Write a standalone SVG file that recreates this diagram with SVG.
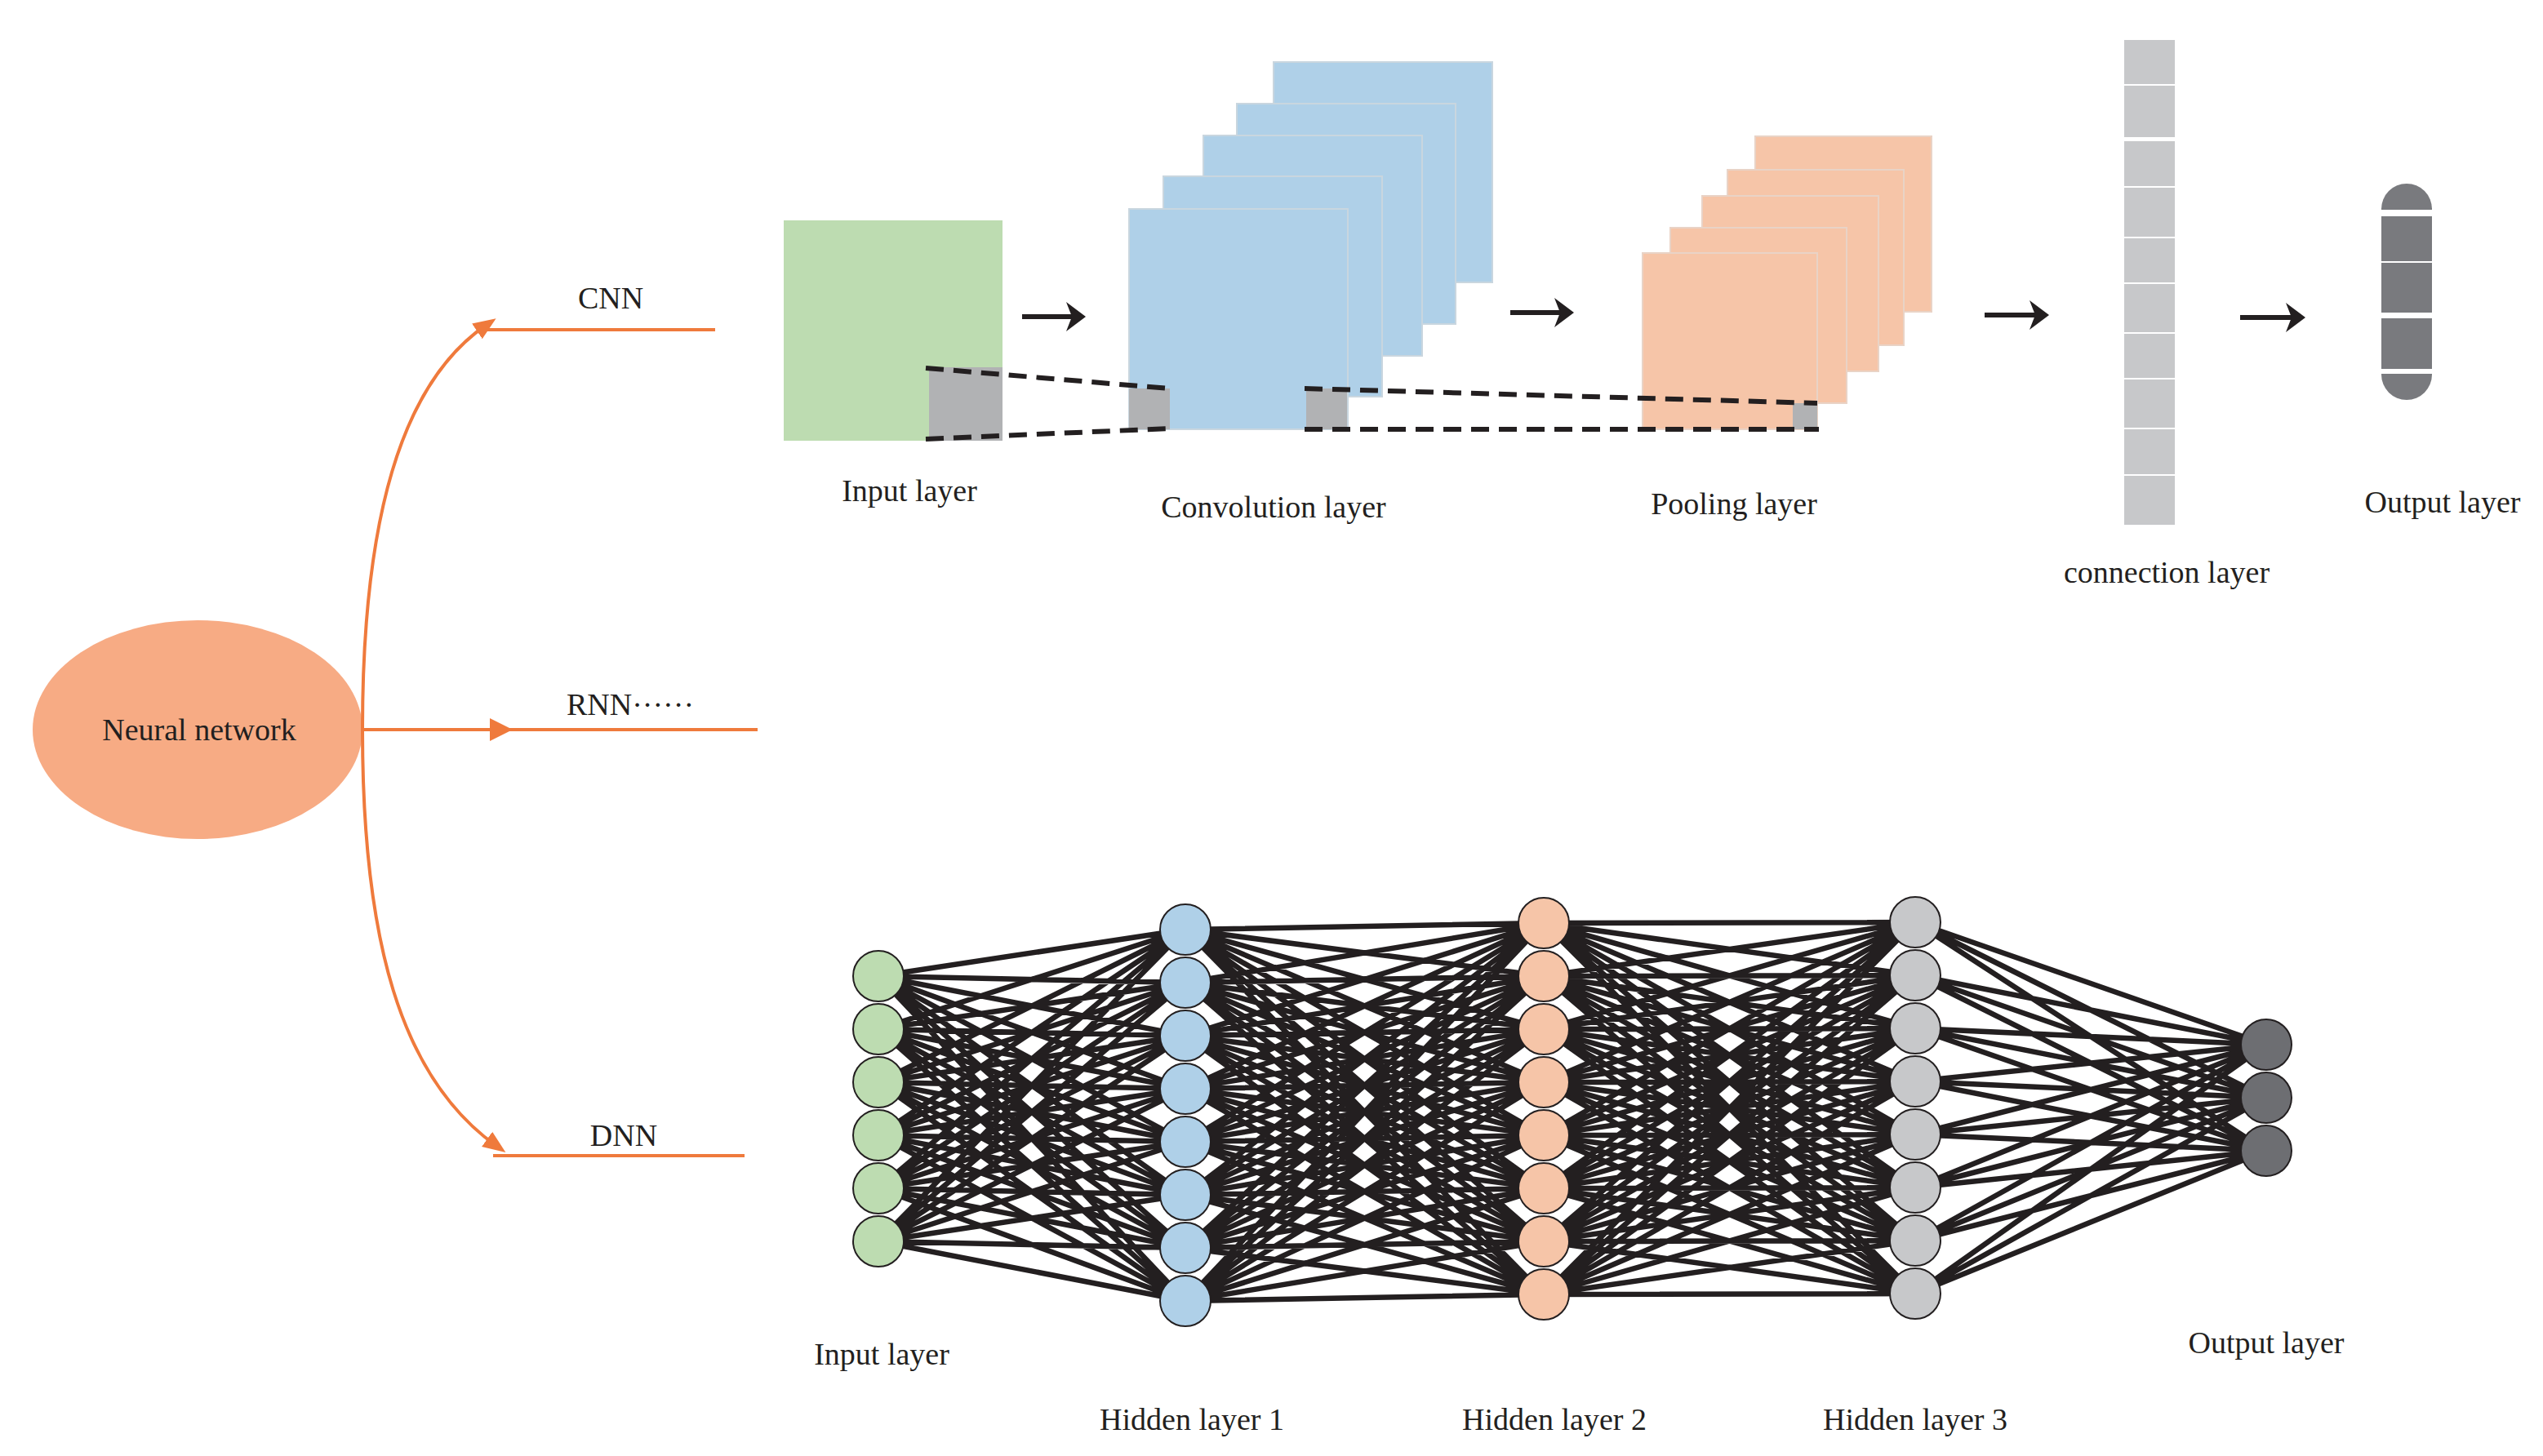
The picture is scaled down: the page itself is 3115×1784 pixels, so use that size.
<svg xmlns="http://www.w3.org/2000/svg" width="3115" height="1784" viewBox="0 0 3115 1784">
<style>
text{font-family:"Liberation Serif",serif;font-size:38px;fill:#231f20;text-anchor:middle}
.bl{fill:#afd0e8;stroke:#c9d6df;stroke-width:2}
.pk{fill:#f6c5a8;stroke:#e9d3c6;stroke-width:2}
.gr{fill:#b1b2b4}
.dash{stroke:#231f20;stroke-width:6;stroke-dasharray:22 12;fill:none}
.or{stroke:#ef7a3c;stroke-width:4;fill:none}
.ar{stroke:#231f20;stroke-width:6;fill:none;marker-end:url(#ah)}
.net{stroke:#231f20;stroke-width:6.5;fill:none;stroke-linejoin:round}
.n{stroke:#231f20;stroke-width:2}
</style>
<defs>
<marker id="ah" viewBox="0 0 24 36" refX="20" refY="18" markerWidth="24" markerHeight="36" orient="auto" markerUnits="userSpaceOnUse"><path d="M0 0 L24 18 L0 36 L7 18 Z" fill="#231f20"/></marker>
<marker id="oh" viewBox="0 0 10 10" refX="5" refY="5" markerWidth="28" markerHeight="28" orient="auto" markerUnits="userSpaceOnUse"><path d="M0 1 L10 5 L0 9 Z" fill="#ef7a3c"/></marker>
</defs>
<rect width="3115" height="1784" fill="#fff"/>
<g id="root">
<ellipse cx="242" cy="894" rx="202" ry="134" fill="#f7ab84"/>
<text x="244" y="907">Neural network</text>
</g>
<g id="branches">
<path class="or" d="M444 894 C444 640 490 470 596 398" marker-end="url(#oh)"/>
<line class="or" x1="590" y1="404" x2="876" y2="404"/>
<line class="or" x1="444" y1="894" x2="928" y2="894"/>
<path d="M600 880 L628 894 L600 908 Z" fill="#ef7a3c"/>
<path class="or" d="M444 894 C444 1150 490 1320 608 1404" marker-end="url(#oh)"/>
<line class="or" x1="604" y1="1416" x2="912" y2="1416"/>
<text x="748" y="378">CNN</text>
<text x="772" y="876">RNN······</text>
<text x="764" y="1404">DNN</text>
</g>
<g id="cnn-input">
<rect x="960" y="270" width="268" height="270" fill="#bddcb1"/>
<rect class="gr" x="1138" y="450" width="90" height="90"/>
<text x="1114" y="614">Input layer</text>
</g>
<g id="cnn-conv">
<rect class="bl" x="1560" y="76" width="268" height="270"/>
<rect class="bl" x="1515" y="127" width="268" height="270"/>
<rect class="bl" x="1474" y="166" width="268" height="270"/>
<rect class="bl" x="1425" y="216" width="268" height="270"/>
<rect class="bl" x="1383" y="256" width="268" height="270"/>
<rect class="gr" x="1383" y="476" width="50" height="50"/>
<rect class="gr" x="1600" y="476" width="50" height="50"/>
<text x="1560" y="634">Convolution layer</text>
</g>
<g id="cnn-pool">
<rect class="pk" x="2150" y="167" width="216" height="215"/>
<rect class="pk" x="2116" y="208" width="216" height="215"/>
<rect class="pk" x="2085" y="240" width="216" height="215"/>
<rect class="pk" x="2046" y="279" width="216" height="215"/>
<rect class="pk" x="2012" y="310" width="214" height="216"/>
<rect class="gr" x="2196" y="494" width="30" height="32"/>
<text x="2124" y="630">Pooling layer</text>
</g>
<g id="cnn-fc">
<rect x="2602" y="49" width="62" height="594" fill="#c7c8ca"/>
<g stroke="#fff" stroke-width="2">
<line x1="2602" y1="104" x2="2664" y2="104"/><line x1="2602" y1="229" x2="2664" y2="229"/><line x1="2602" y1="291" x2="2664" y2="291"/><line x1="2602" y1="347" x2="2664" y2="347"/><line x1="2602" y1="408" x2="2664" y2="408"/><line x1="2602" y1="464" x2="2664" y2="464"/><line x1="2602" y1="525" x2="2664" y2="525"/><line x1="2602" y1="582" x2="2664" y2="582"/>
</g>
<rect x="2600" y="168" width="66" height="5" fill="#fff"/>
<text x="2654" y="714">connection layer</text>
</g>
<g id="cnn-output">
<rect x="2917" y="225" width="62" height="265" rx="31" fill="#797a7e"/>
<rect x="2915" y="257" width="66" height="8" fill="#fff"/>
<rect x="2915" y="320" width="66" height="2" fill="#fff"/>
<rect x="2915" y="383" width="66" height="7" fill="#fff"/>
<rect x="2915" y="452" width="66" height="6" fill="#fff"/>
<text x="2992" y="628">Output layer</text>
</g>
<g id="cnn-connectors">
<path class="dash" d="M1134 451 L1432 476 M1134 538 L1432 525"/>
<path class="dash" d="M1598 476 L2226 494 M1598 526 L2228 526"/>
<line class="ar" x1="1252" y1="388" x2="1326" y2="388"/>
<line class="ar" x1="1850" y1="383" x2="1924" y2="383"/>
<line class="ar" x1="2431" y1="386" x2="2506" y2="386"/>
<line class="ar" x1="2744" y1="389" x2="2820" y2="389"/>
</g>
<g id="dnn-connectors" class="net">
<path d="M1452 1139L1076 1196L1452 1204M1452 1269L1076 1196L1452 1334M1452 1399L1076 1196L1452 1464M1452 1529L1076 1196L1452 1594
M1452 1139L1076 1261L1452 1204M1452 1269L1076 1261L1452 1334M1452 1399L1076 1261L1452 1464M1452 1529L1076 1261L1452 1594
M1452 1139L1076 1326L1452 1204M1452 1269L1076 1326L1452 1334M1452 1399L1076 1326L1452 1464M1452 1529L1076 1326L1452 1594
M1452 1139L1076 1391L1452 1204M1452 1269L1076 1391L1452 1334M1452 1399L1076 1391L1452 1464M1452 1529L1076 1391L1452 1594
M1452 1139L1076 1456L1452 1204M1452 1269L1076 1456L1452 1334M1452 1399L1076 1456L1452 1464M1452 1529L1076 1456L1452 1594
M1452 1139L1076 1521L1452 1204M1452 1269L1076 1521L1452 1334M1452 1399L1076 1521L1452 1464M1452 1529L1076 1521L1452 1594"/>
<path d="M1891 1131L1452 1139L1891 1196M1891 1261L1452 1139L1891 1326M1891 1391L1452 1139L1891 1456M1891 1521L1452 1139L1891 1586
M1891 1131L1452 1204L1891 1196M1891 1261L1452 1204L1891 1326M1891 1391L1452 1204L1891 1456M1891 1521L1452 1204L1891 1586
M1891 1131L1452 1269L1891 1196M1891 1261L1452 1269L1891 1326M1891 1391L1452 1269L1891 1456M1891 1521L1452 1269L1891 1586
M1891 1131L1452 1334L1891 1196M1891 1261L1452 1334L1891 1326M1891 1391L1452 1334L1891 1456M1891 1521L1452 1334L1891 1586
M1891 1131L1452 1399L1891 1196M1891 1261L1452 1399L1891 1326M1891 1391L1452 1399L1891 1456M1891 1521L1452 1399L1891 1586
M1891 1131L1452 1464L1891 1196M1891 1261L1452 1464L1891 1326M1891 1391L1452 1464L1891 1456M1891 1521L1452 1464L1891 1586
M1891 1131L1452 1529L1891 1196M1891 1261L1452 1529L1891 1326M1891 1391L1452 1529L1891 1456M1891 1521L1452 1529L1891 1586
M1891 1131L1452 1594L1891 1196M1891 1261L1452 1594L1891 1326M1891 1391L1452 1594L1891 1456M1891 1521L1452 1594L1891 1586"/>
<path d="M2346 1130L1891 1131L2346 1195M2346 1260L1891 1131L2346 1325M2346 1390L1891 1131L2346 1455M2346 1520L1891 1131L2346 1585
M2346 1130L1891 1196L2346 1195M2346 1260L1891 1196L2346 1325M2346 1390L1891 1196L2346 1455M2346 1520L1891 1196L2346 1585
M2346 1130L1891 1261L2346 1195M2346 1260L1891 1261L2346 1325M2346 1390L1891 1261L2346 1455M2346 1520L1891 1261L2346 1585
M2346 1130L1891 1326L2346 1195M2346 1260L1891 1326L2346 1325M2346 1390L1891 1326L2346 1455M2346 1520L1891 1326L2346 1585
M2346 1130L1891 1391L2346 1195M2346 1260L1891 1391L2346 1325M2346 1390L1891 1391L2346 1455M2346 1520L1891 1391L2346 1585
M2346 1130L1891 1456L2346 1195M2346 1260L1891 1456L2346 1325M2346 1390L1891 1456L2346 1455M2346 1520L1891 1456L2346 1585
M2346 1130L1891 1521L2346 1195M2346 1260L1891 1521L2346 1325M2346 1390L1891 1521L2346 1455M2346 1520L1891 1521L2346 1585
M2346 1130L1891 1586L2346 1195M2346 1260L1891 1586L2346 1325M2346 1390L1891 1586L2346 1455M2346 1520L1891 1586L2346 1585"/>
<path d="M2776 1280L2346 1130L2776 1345M2776 1410L2346 1130
M2776 1280L2346 1195L2776 1345M2776 1410L2346 1195
M2776 1280L2346 1260L2776 1345M2776 1410L2346 1260
M2776 1280L2346 1325L2776 1345M2776 1410L2346 1325
M2776 1280L2346 1390L2776 1345M2776 1410L2346 1390
M2776 1280L2346 1455L2776 1345M2776 1410L2346 1455
M2776 1280L2346 1520L2776 1345M2776 1410L2346 1520
M2776 1280L2346 1585L2776 1345M2776 1410L2346 1585"/>
</g>
<g id="dnn-input" class="n" fill="#bddcb1">
<circle cx="1076" cy="1196" r="31"/><circle cx="1076" cy="1261" r="31"/><circle cx="1076" cy="1326" r="31"/><circle cx="1076" cy="1391" r="31"/><circle cx="1076" cy="1456" r="31"/><circle cx="1076" cy="1521" r="31"/>
<text x="1080" y="1672" stroke="none">Input layer</text>
</g>
<g id="dnn-hidden1" class="n" fill="#afd0e8">
<circle cx="1452" cy="1139" r="31"/><circle cx="1452" cy="1204" r="31"/><circle cx="1452" cy="1269" r="31"/><circle cx="1452" cy="1334" r="31"/><circle cx="1452" cy="1399" r="31"/><circle cx="1452" cy="1464" r="31"/><circle cx="1452" cy="1529" r="31"/><circle cx="1452" cy="1594" r="31"/>
<text x="1460" y="1752" stroke="none">Hidden layer 1</text>
</g>
<g id="dnn-hidden2" class="n" fill="#f6c5a8">
<circle cx="1891" cy="1131" r="31"/><circle cx="1891" cy="1196" r="31"/><circle cx="1891" cy="1261" r="31"/><circle cx="1891" cy="1326" r="31"/><circle cx="1891" cy="1391" r="31"/><circle cx="1891" cy="1456" r="31"/><circle cx="1891" cy="1521" r="31"/><circle cx="1891" cy="1586" r="31"/>
<text x="1904" y="1752" stroke="none">Hidden layer 2</text>
</g>
<g id="dnn-hidden3" class="n" fill="#c7c8ca">
<circle cx="2346" cy="1130" r="31"/><circle cx="2346" cy="1195" r="31"/><circle cx="2346" cy="1260" r="31"/><circle cx="2346" cy="1325" r="31"/><circle cx="2346" cy="1390" r="31"/><circle cx="2346" cy="1455" r="31"/><circle cx="2346" cy="1520" r="31"/><circle cx="2346" cy="1585" r="31"/>
<text x="2346" y="1752" stroke="none">Hidden layer 3</text>
</g>
<g id="dnn-output" class="n" fill="#6d6e72">
<circle cx="2776" cy="1280" r="31"/><circle cx="2776" cy="1345" r="31"/><circle cx="2776" cy="1410" r="31"/>
<text x="2776" y="1658" stroke="none">Output layer</text>
</g>
</svg>
